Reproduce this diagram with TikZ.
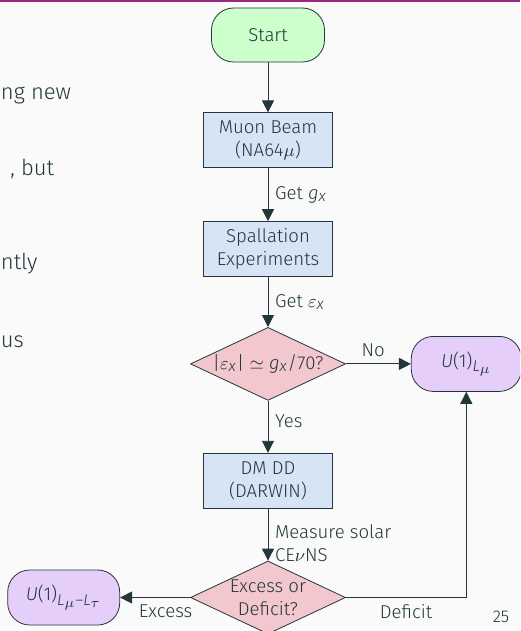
\documentclass[tikz,border=0pt]{standalone}
\usepackage{fontspec}
\IfFontExistsTF{Fira Sans Light}{\setmainfont{Fira Sans Light}}{\setmainfont{Fira Sans}}
\usepackage[italic]{mathastext}
\usetikzlibrary{arrows.meta,positioning,shapes.geometric}
\definecolor{ink}{RGB}{35,55,59}
\definecolor{slidebg}{RGB}{250,250,250}
\definecolor{topbar}{RGB}{153,41,126}
\definecolor{startgreen}{RGB}{204,255,204}
\definecolor{procblue}{RGB}{214,228,245}
\definecolor{decpink}{RGB}{242,200,206}
\definecolor{endviolet}{RGB}{230,206,250}
\newcommand{\up}[1]{\mbox{#1}}

\begin{document}
\begin{tikzpicture}[
  color=ink,
  font=\fontsize{9.3}{11.5}\selectfont,
  terminal/.style={rectangle,rounded corners=11pt,draw=ink,line width=0.4pt,
                   minimum width=56.5pt,minimum height=27pt,align=center},
  process/.style={rectangle,draw=ink,line width=0.4pt,fill=procblue,
                  minimum width=64.5pt,minimum height=27.5pt,align=center},
  decision/.style={diamond,draw=ink,line width=0.4pt,fill=decpink,aspect=2.1,
                   inner sep=0pt,minimum width=77.5pt,minimum height=36.5pt,align=center},
  arrow/.style={-{Triangle[length=6pt,width=6pt]},line width=0.45pt},
  bodytext/.style={anchor=base west,inner sep=0pt,font=\fontsize{11}{13}\selectfont}
]
% slide frame
\useasboundingbox (0,0) rectangle (260pt,-315.5pt);
\clip (0,0) rectangle (260pt,-315.5pt);
\fill[slidebg] (0,0) rectangle (260pt,-315.5pt);
\fill[topbar] (0,0) rectangle (260pt,-0.9pt);
% cut-off slide text on the left
\node[bodytext] (linea) at (0.3pt,-49.5pt) {ng new};
\node[bodytext] (lineb) at (5pt,-87.5pt) {, but};
\node[bodytext] (linec) at (0.3pt,-134.5pt) {ntly};
\node[bodytext] (lined) at (0.3pt,-173.5pt) {us};
% main column
\node[terminal,fill=startgreen] (start) at (134pt,-17.5pt) {Start};
\node[process,below=25pt of start] (muon) {Muon Beam\\(NA64$\mu$)};
\node[process,below=26.5pt of muon] (spall) {Spallation\\Experiments};
\node[decision,below=25pt of spall] (ratio) {$|\varepsilon_x| \simeq g_x\up{/70?}$};
\node[process,below=26pt of ratio] (darwin) {DM DD\\(DARWIN)};
\node[decision,below=26pt of darwin] (excess) {Excess or\\Deficit?};
% outcomes
\node[terminal,fill=endviolet,minimum width=55pt,minimum height=27.5pt,
      right=32.5pt of ratio] (lmu) {$U\up{(1)}_{L_\mu}$};
\node[terminal,fill=endviolet,minimum width=56pt,minimum height=27.5pt,
      left=35pt of excess] (lmutau) {$U\up{(1)}_{L_\mu-L_\tau}$};
% arrows
\draw[arrow] (start) -- (muon);
\draw[arrow] (muon) -- node[right] {Get $g_x$} (spall);
\draw[arrow] (spall) -- node[right] {Get $\varepsilon_x$} (ratio);
\draw[arrow] (ratio) -- node[above,pos=0.42] {No} (lmu);
\draw[arrow] (ratio) -- node[right,pos=0.4] {Yes} (darwin);
\draw[arrow] (darwin) -- node[right,pos=0.66,align=left] {Measure solar\\CE$\nu$NS} (excess);
\draw[arrow] (excess) -- node[below,pos=0.35] {Excess} (lmutau);
\draw[arrow] (excess.east) -| node[below,pos=0.25] {Deficit} (lmu.south);
% page number
\node[font=\fontsize{8.5}{10}\selectfont] (pagenum) at (250.5pt,-308.5pt) {25};
\end{tikzpicture}
\end{document}
